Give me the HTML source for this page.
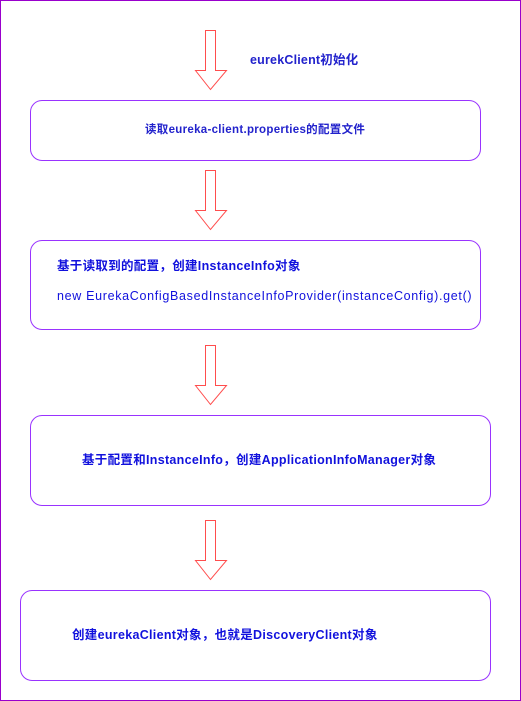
<!DOCTYPE html>
<html><head><meta charset="utf-8"><style>
body{margin:0;width:521px;height:701px;background:#fff;overflow:hidden;position:relative;font-family:"Liberation Sans","Noto Sans CJK SC",sans-serif;color:#1a1aff}
.frame{position:absolute;left:0;top:0;width:519px;height:699px;border:1px solid #9900cc}
.b{position:absolute;border:1px solid #9933ff;border-radius:12px;box-sizing:border-box}
.t{position:absolute;white-space:nowrap;font-size:12.5px;line-height:14px;font-weight:bold;letter-spacing:0.3px}
svg{position:absolute;left:0;top:0}
</style></head><body>
<div class="frame"></div>
<svg width="521" height="701">
<g fill="#fff" stroke="#ff4d4d" stroke-width="1">
<polygon points="205.5,30.5 215.5,30.5 215.5,70.5 226.5,70.5 210.5,89.5 195.5,70.5 205.5,70.5"/>
<polygon points="205.5,170.5 215.5,170.5 215.5,210.5 226.5,210.5 210.5,229.5 195.5,210.5 205.5,210.5"/>
<polygon points="205.5,345.5 215.5,345.5 215.5,385.5 226.5,385.5 210.5,404.5 195.5,385.5 205.5,385.5"/>
<polygon points="205.5,520.5 215.5,520.5 215.5,560.5 226.5,560.5 210.5,579.5 195.5,560.5 205.5,560.5"/>
</g></svg>
<div class="t" style="left:250px;top:53px;color:#2222cc;letter-spacing:0.2px">eurekClient初始化</div>
<div class="b" style="left:30px;top:100px;width:451px;height:61px"></div>
<div class="t" style="left:145px;top:123px;font-size:11.5px;color:#2222cc">读取eureka-client.properties的配置文件</div>
<div class="b" style="left:30px;top:240px;width:451px;height:90px"></div>
<div class="t" style="left:57px;top:259px;color:#1111dd">基于读取到的配置，创建InstanceInfo对象</div>
<div class="t" style="left:57px;top:289px;color:#1111dd;font-weight:normal;letter-spacing:0.68px">new EurekaConfigBasedInstanceInfoProvider(instanceConfig).get()</div>
<div class="b" style="left:30px;top:415px;width:461px;height:91px"></div>
<div class="t" style="left:82px;top:453px;color:#1111dd">基于配置和InstanceInfo，创建ApplicationInfoManager对象</div>
<div class="b" style="left:20px;top:590px;width:471px;height:91px"></div>
<div class="t" style="left:72px;top:628px;color:#1111dd">创建eurekaClient对象，也就是DiscoveryClient对象</div>
</body></html>
